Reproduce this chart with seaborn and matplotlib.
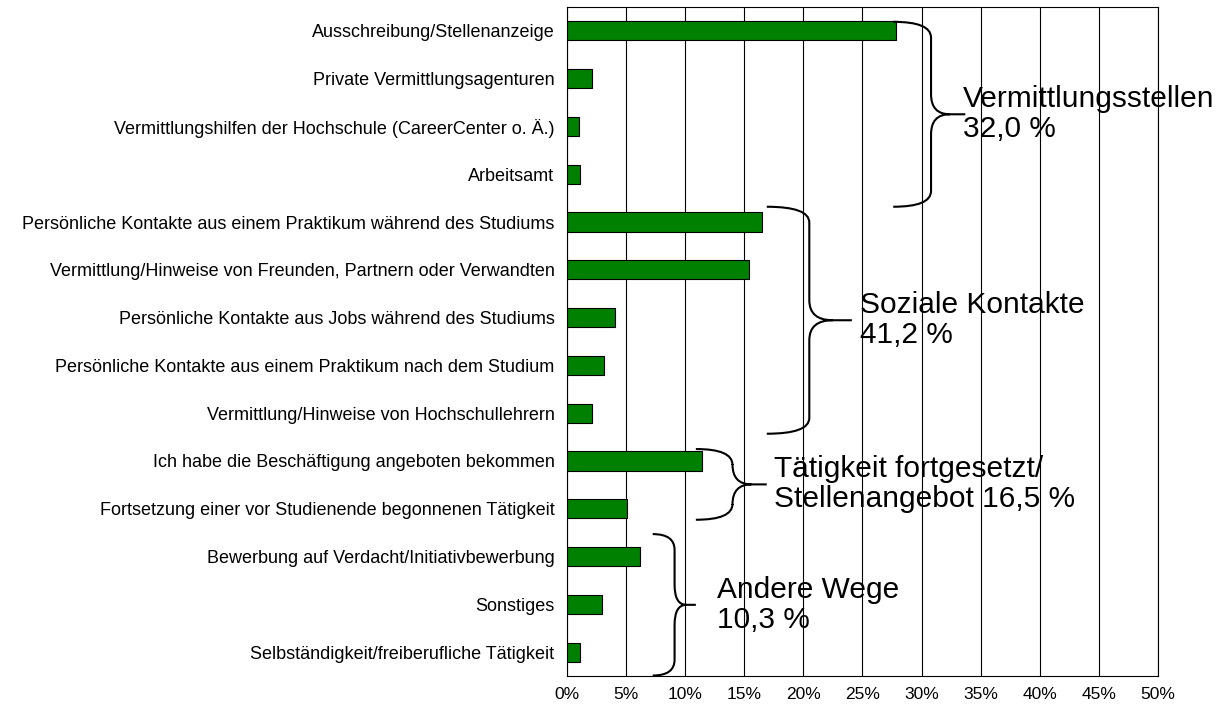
import matplotlib
matplotlib.use("Agg")
import numpy as np
import pandas as pd
import matplotlib.pyplot as plt
import seaborn as sns
from matplotlib.path import Path
from matplotlib.patches import PathPatch

# Daten
kategorien = [
    "Ausschreibung/Stellenanzeige",
    "Private Vermittlungsagenturen",
    "Vermittlungshilfen der Hochschule (CareerCenter o. Ä.)",
    "Arbeitsamt",
    "Persönliche Kontakte aus einem Praktikum während des Studiums",
    "Vermittlung/Hinweise von Freunden, Partnern oder Verwandten",
    "Persönliche Kontakte aus Jobs während des Studiums",
    "Persönliche Kontakte aus einem Praktikum nach dem Studium",
    "Vermittlung/Hinweise von Hochschullehrern",
    "Ich habe die Beschäftigung angeboten bekommen",
    "Fortsetzung einer vor Studienende begonnenen Tätigkeit",
    "Bewerbung auf Verdacht/Initiativbewerbung",
    "Sonstiges",
    "Selbständigkeit/freiberufliche Tätigkeit",
]
anteile = [27.8, 2.1, 1.0, 1.1, 16.5, 15.4, 4.1, 3.1, 2.1, 11.4, 5.1, 6.2, 3.0, 1.1]

gruppen_text = [
    "Vermittlungsstellen\n32,0 %",
    "Soziale Kontakte\n41,2 %",
    "Tätigkeit fortgesetzt/\nStellenangebot 16,5 %",
    "Andere Wege\n10,3 %",
]
x_ticks = [0, 5, 10, 15, 20, 25, 30, 35, 40, 45, 50]
x_ticklabels = [f"{t}%" for t in x_ticks]

# Klammern: (y oben, y unten, x Enden, x Senkrechte, x Spitze) in Datenkoordinaten
klammern = [
    (-0.19, 3.68, 27.6, 30.8, 33.7),
    (3.68, 8.43, 16.9, 20.5, 24.1),
    (8.75, 10.23, 10.9, 14.0, 16.9),
    (10.53, 13.49, 7.25, 9.1, 10.9),
]
text_x = [33.5, 24.8, 17.5, 12.7]

df = pd.DataFrame({"kategorie": kategorien, "anteil": anteile})

sns.set_style("white")
plt.rcParams["font.family"] = ["Liberation Sans", "DejaVu Sans"]
plt.rcParams["text.color"] = "black"
plt.rcParams["xtick.color"] = "black"
plt.rcParams["ytick.color"] = "black"
plt.rcParams["axes.labelcolor"] = "black"

fig = plt.figure(figsize=(12.26, 7.14), dpi=100)
ax = fig.add_axes([0.4625, 0.0532, 0.9445 - 0.4625, 0.9902 - 0.0532])

sns.barplot(data=df, x="anteil", y="kategorie", orient="h", width=0.4,
            color="#008000", saturation=1, edgecolor="black", linewidth=0.8, ax=ax)

ax.set_xlim(0, 50)
ax.set_ylim(len(kategorien) - 0.5, -0.5)
ax.set_xticks(x_ticks)
ax.set_xticklabels(x_ticklabels, fontsize=12.5)
ax.set_yticks(range(len(kategorien)))
ax.set_yticklabels(kategorien, fontsize=13)
ax.set_yticks(np.arange(-0.5, len(kategorien), 1.0), minor=True)
ax.tick_params(axis="y", which="major", length=0, pad=9)
ax.tick_params(axis="y", which="minor", length=5, width=0.8, color="black", direction="out")
ax.tick_params(axis="x", length=5, width=0.8, color="black", direction="out", pad=3)
ax.set_xlabel("")
ax.set_ylabel("")
ax.xaxis.grid(True, color="black", linewidth=0.8)
ax.set_axisbelow(True)
for s in ax.spines.values():
    s.set_visible(True)
    s.set_color("black")
    s.set_linewidth(0.8)


def klammer(ax, y0, y1, x0, xv, xt):
    ym = (y0 + y1) / 2
    ry = 0.33
    rt = 0.42
    xr = xv + (xt - xv) * 0.55
    verts = [
        (x0, y0), (xv, y0), (xv, y0 + ry),
        (xv, ym - rt), (xv, ym), (xr, ym),
        (xt, ym),
        (xr, ym), (xv, ym), (xv, ym + rt),
        (xv, y1 - ry), (xv, y1), (x0, y1),
    ]
    codes = [
        Path.MOVETO, Path.CURVE3, Path.CURVE3,
        Path.LINETO, Path.CURVE3, Path.CURVE3,
        Path.LINETO,
        Path.MOVETO, Path.CURVE3, Path.CURVE3,
        Path.LINETO, Path.CURVE3, Path.CURVE3,
    ]
    ax.add_patch(PathPatch(Path(verts, codes), facecolor="none",
                           edgecolor="black", linewidth=1.5, clip_on=False, zorder=5))
    return ym


for (y0, y1, x0, xv, xt), label, tx in zip(klammern, gruppen_text, text_x):
    ym = klammer(ax, y0, y1, x0, xv, xt)
    ax.text(tx, ym, label, fontsize=21.5, ha="left", va="center",
            linespacing=1.1, clip_on=False, zorder=6)

plt.savefig("out.png", dpi=100)
